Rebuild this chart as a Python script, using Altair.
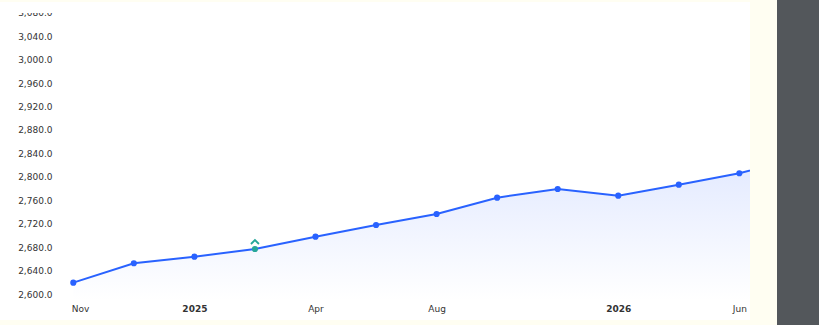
import altair as alt
import pandas as pd

# ---- data ----
dates = ["2024-11", "2024-12", "2025-01", "2025-02", "2025-04", "2025-06", "2025-08",
         "2025-09", "2025-11", "2026-01", "2026-03", "2026-06", "2026-08"]
values = [2620.1, 2653.1, 2664.3, 2677.4, 2698.4, 2718.3, 2737.0,
          2764.8, 2779.6, 2768.2, 2786.9, 2806.3, 2833.0]
tick_labels = ["Nov", "", "2025", "", "Apr", "", "Aug", "", "", "2026", "", "Jun", ""]
year_labels = ["2025", "2026"]
y_ticks = list(range(2600, 3081, 40))
marker_index = 3

Y_MIN, Y_MAX = 2590.6, 3101.3

df = pd.DataFrame({
    "idx": list(range(len(values))),
    "date": dates,
    "value": values,
    "marker": [i == marker_index for i in range(len(values))],
})

FONT = "DejaVu Sans"
BLUE = "#2962ff"
TEAL = "#26a69a"

tick_positions = [i for i, t in enumerate(tick_labels) if t]
label_js = "[" + ",".join("'%s'" % t for t in tick_labels) + "]"
year_test = " || ".join("datum.value == %d" % i for i, t in enumerate(tick_labels) if t in year_labels)

x_enc = alt.X(
    "idx:Q",
    scale=alt.Scale(domain=[-0.2197, 11.176], nice=False, zero=False),
    axis=alt.Axis(
        values=tick_positions,
        labelExpr=label_js + "[datum.value]",
        title=None, domain=False, ticks=False, grid=False, labelOverlap=False,
        labelFont=FONT, labelFontSize=9, labelColor="#333333", labelPadding=4,
        labelFontWeight={"condition": {"test": year_test, "value": "bold"}, "value": "normal"},
        labelAlign={"condition": {"test": "datum.value == 0", "value": "left"}, "value": "center"},
        labelOffset={"condition": {"test": "datum.value == 0", "value": -2}, "value": 0},
    ),
)
y_enc = alt.Y(
    "value:Q",
    scale=alt.Scale(domain=[Y_MIN, Y_MAX], nice=False, zero=False),
    axis=alt.Axis(
        values=y_ticks, format=",.1f", title=None, domain=False, ticks=False, grid=False,
        labelOverlap=False,
        labelFont=FONT, labelFontSize=9, labelColor="#333333", labelPadding=8,
    ),
)

base = alt.Chart(df)

area = base.mark_area(
    clip=True,
    fill=alt.Gradient(
        gradient="linear",
        stops=[alt.GradientStop(color="#e2e9ff", offset=0),
               alt.GradientStop(color="#ffffff", offset=1)],
        x1=0, x2=0, y1=0, y2=1,
    ),
    fillOpacity=1,
).encode(x=x_enc, y=y_enc, y2=alt.datum(Y_MIN))

line = base.mark_line(clip=True, color=BLUE, strokeWidth=2).encode(x=x_enc, y=y_enc)

pts = base.transform_filter("!datum.marker").mark_circle(
    clip=True, color=BLUE, size=38, opacity=1).encode(x=x_enc, y=y_enc)

mk = base.transform_filter("datum.marker").mark_circle(
    clip=True, color=TEAL, size=38, opacity=1).encode(x=x_enc, y=y_enc)

chev = base.transform_filter("datum.marker").mark_point(
    shape="M-1,0.5L0,-0.5L1,0.5", filled=False, stroke=TEAL, strokeWidth=1.8,
    size=64, yOffset=-7, opacity=1).encode(x=x_enc, y=y_enc)

one = alt.Data(values=[{}])
def deco(color, x0, x1, y0, y1):
    return alt.Chart(one).mark_rect(color=color).encode(
        x=alt.value(x0), x2=alt.value(x1), y=alt.value(y0), y2=alt.value(y1))

CREAM = "#fffef2"
decos = [
    deco("#ffffff", -60, 0, 2, 13),
    deco(CREAM, -60, 717, 0, 2),
    deco(CREAM, 690, 717, 0, 325),
    deco(CREAM, -60, 717, 320, 325),
    deco("#53575b", 717, 759, 0, 325),
]

chart = alt.layer(area, line, pts, mk, chev, *decos).properties(
    width=690, height=300,
    autosize=alt.AutoSizeParams(type="none"),
    padding={"left": 60, "top": 0, "right": 69, "bottom": 25},
    background="#ffffff",
).configure_view(stroke=None).configure_axis(labelOverlap=False)

chart.save("out.html", embed_options={"renderer": "svg", "actions": False})
